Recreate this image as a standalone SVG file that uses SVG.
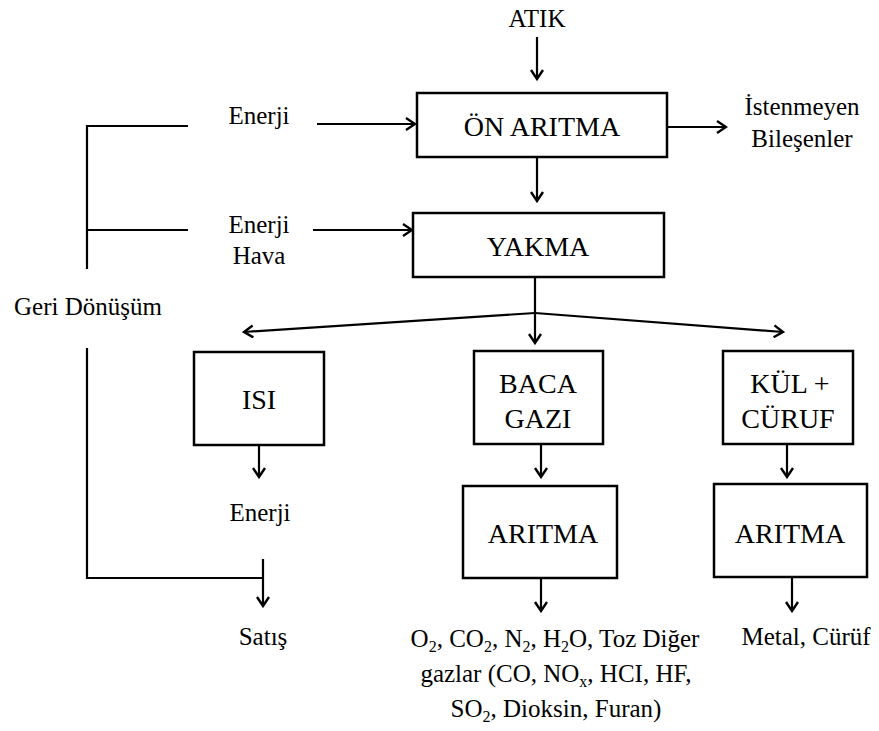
<svg xmlns="http://www.w3.org/2000/svg" width="879" height="731" viewBox="0 0 879 731">
  <style>
    text { fill: #000; text-anchor: middle; }
    .box { fill: #fff; stroke: #000; stroke-width: 2.5; }
    .ln { fill: none; stroke: #000; stroke-width: 2.2; }
    .ar { fill: none; stroke: #000; stroke-width: 2.2; marker-end: url(#arrow); }
  </style>
  <defs>
    <marker id="arrow" markerUnits="userSpaceOnUse" viewBox="0 0 12 14" refX="10" refY="7" markerWidth="12" markerHeight="14" orient="auto">
      <path d="M1,1 L10,7 L1,13" fill="none" stroke="#000" stroke-width="2.4" stroke-linejoin="miter"/>
    </marker>
  </defs>

  <!-- connectors -->
  <g id="connectors">
    <line class="ar" x1="537" y1="37" x2="537" y2="79"/>
    <line class="ar" x1="537" y1="157" x2="537" y2="201"/>
    <line class="ar" x1="666" y1="127" x2="726" y2="127"/>
    <line class="ar" x1="317" y1="124" x2="415" y2="124"/>
    <line class="ar" x1="313" y1="230" x2="412" y2="230"/>
    <!-- recycling bracket -->
    <polyline class="ln" points="188,126 87,126 87,269"/>
    <line class="ln" x1="87" y1="230" x2="188" y2="230"/>
    <polyline class="ln" points="87,348 87,578 263,578"/>
    <line class="ar" x1="263" y1="559" x2="263" y2="606"/>
    <!-- split after combustion -->
    <line class="ln" x1="535" y1="277" x2="535" y2="313"/>
    <line class="ar" x1="535" y1="313" x2="535" y2="343"/>
    <line class="ar" x1="535" y1="313" x2="244" y2="332"/>
    <line class="ar" x1="535" y1="313" x2="783" y2="332"/>
    <line class="ar" x1="259" y1="445" x2="259" y2="477"/>
    <line class="ar" x1="541" y1="444" x2="541" y2="477"/>
    <line class="ar" x1="787" y1="444" x2="787" y2="477"/>
    <line class="ar" x1="541" y1="578" x2="541" y2="611"/>
    <line class="ar" x1="792" y1="577" x2="792" y2="611"/>
  </g>

  <!-- free labels -->
  <text id="atik" font-family="Liberation Serif" font-size="25" x="537" y="27">ATIK</text>
  <g id="istenmeyen">
    <text font-family="Liberation Serif" font-size="25" x="802" y="115">İstenmeyen</text>
    <text font-family="Liberation Serif" font-size="25" x="802" y="147">Bileşenler</text>
  </g>
  <text id="enerji1" font-family="Liberation Serif" font-size="25" x="259" y="124">Enerji</text>
  <g id="enerji-hava">
    <text font-family="Liberation Serif" font-size="25" x="259" y="233">Enerji</text>
    <text font-family="Liberation Serif" font-size="25" x="259" y="264">Hava</text>
  </g>
  <text id="geri" font-family="Liberation Serif" font-size="25" x="88" y="315">Geri Dönüşüm</text>
  <text id="enerji3" font-family="Liberation Serif" font-size="25" x="260" y="521">Enerji</text>
  <text id="satis" font-family="Liberation Serif" font-size="25" x="263" y="645">Satış</text>
  <text id="metal" font-family="Liberation Serif" font-size="25" x="806" y="645">Metal, Cürüf</text>
  <g id="gazlar">
    <text font-family="Liberation Serif" font-size="25" x="555" y="647">O<tspan font-size="16" dy="5">2</tspan><tspan dy="-5">, CO</tspan><tspan font-size="16" dy="5">2</tspan><tspan dy="-5">, N</tspan><tspan font-size="16" dy="5">2</tspan><tspan dy="-5">, H</tspan><tspan font-size="16" dy="5">2</tspan><tspan dy="-5">O, Toz Diğer</tspan></text>
    <text font-family="Liberation Serif" font-size="25" x="556" y="682">gazlar (CO, NO<tspan font-size="16" dy="5">x</tspan><tspan dy="-5">, HCI, HF,</tspan></text>
    <text font-family="Liberation Serif" font-size="25" x="556" y="717">SO<tspan font-size="16" dy="5">2</tspan><tspan dy="-5">, Dioksin, Furan)</tspan></text>
  </g>

  <!-- process boxes -->
  <g id="on-aritma">
    <rect class="box" x="417" y="93" width="250" height="64"/>
    <text font-family="Liberation Serif" font-size="28" x="542" y="136">ÖN ARITMA</text>
  </g>
  <g id="yakma">
    <rect class="box" x="413" y="213" width="251" height="64"/>
    <text font-family="Liberation Serif" font-size="28" x="538" y="256">YAKMA</text>
  </g>
  <g id="isi">
    <rect class="box" x="194" y="352" width="130" height="93"/>
    <text font-family="Liberation Serif" font-size="28" x="259" y="409">ISI</text>
  </g>
  <g id="baca-gazi">
    <rect class="box" x="474" y="351" width="129" height="93"/>
    <text font-family="Liberation Serif" font-size="28" x="538" y="393">BACA</text>
    <text font-family="Liberation Serif" font-size="28" x="538" y="428">GAZI</text>
  </g>
  <g id="kul-curuf">
    <rect class="box" x="723" y="351" width="130" height="93"/>
    <text font-family="Liberation Serif" font-size="28" x="790" y="393">KÜL +</text>
    <text font-family="Liberation Serif" font-size="28" x="788" y="428">CÜRUF</text>
  </g>
  <g id="aritma-gaz">
    <rect class="box" x="463" y="486" width="154" height="92"/>
    <text font-family="Liberation Serif" font-size="28" x="543" y="543">ARITMA</text>
  </g>
  <g id="aritma-kul">
    <rect class="box" x="714" y="484" width="153" height="93"/>
    <text font-family="Liberation Serif" font-size="28" x="790" y="543">ARITMA</text>
  </g>
</svg>
